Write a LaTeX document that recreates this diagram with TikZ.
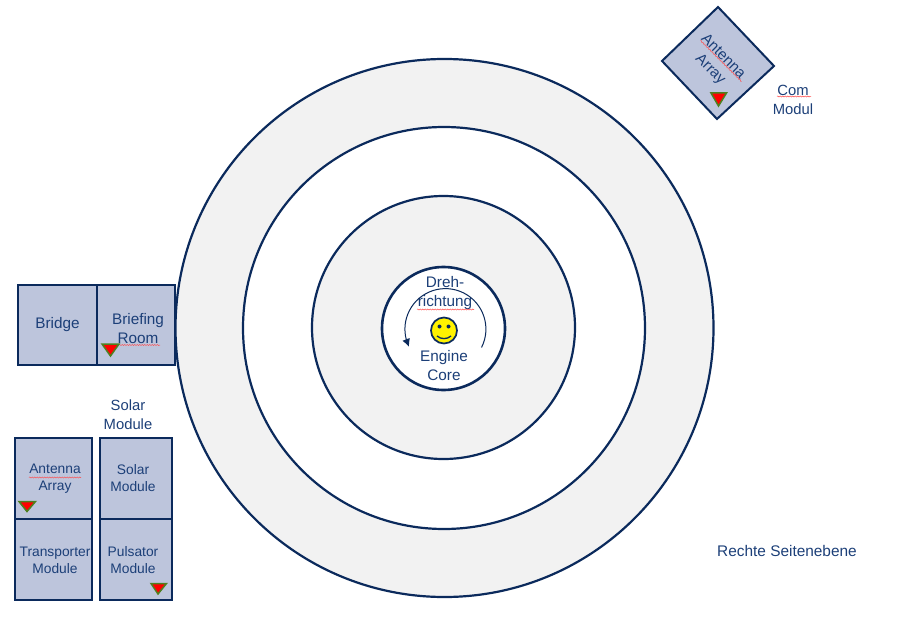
\documentclass[tikz,border=0pt]{standalone}
\usepackage{fontspec}
\setmainfont{Liberation Sans}
\usetikzlibrary{arrows.meta,bending,decorations.pathmorphing}
\definecolor{navy}{HTML}{0B2A5C}
\definecolor{txt}{HTML}{1C3F78}
\definecolor{boxfill}{HTML}{BDC5DC}
\definecolor{ring}{HTML}{F2F2F2}
\definecolor{mark}{HTML}{FF0000}
\definecolor{markedge}{HTML}{4F7F1F}
\tikzset{
  ringc/.style={circle,draw=navy,line width=2.2pt,inner sep=0pt,minimum size=#1},
  room/.style={rectangle,draw=navy,line width=2pt,fill=boxfill,inner sep=0pt},
  lab/.style={text=txt,align=center,inner sep=0pt,font=\fontsize{15.3}{19}\selectfont},
  slab/.style={text=txt,align=center,inner sep=0pt,font=\fontsize{13.8}{17}\selectfont},
  tri/.style={draw=markedge,fill=mark,line width=1.5pt,line join=miter},
  squig/.style={draw=red!70!white,line width=0.5pt,decorate,decoration={snake,amplitude=0.5pt,segment length=2.5pt}}
}
\begin{document}
\begin{tikzpicture}[x=1pt,y=-1pt]
\useasboundingbox (0,0) rectangle (907,631);
% rings
\node[ringc=538pt,fill=ring] (r1) at (444.5,328) {};
\node[ringc=402pt,fill=white] (r2) at (444,328) {};
\node[ringc=263pt,fill=ring] (r3) at (443.5,327.5) {};
\node[ringc=123pt,fill=white,line width=2.6pt] (r4) at (443.5,328.5) {};
% core
\node[lab] (dreh) at (445,293) {Dreh-\\richtung};
\node[lab] (core) at (444,366) {Engine\\Core};
\draw[squig] (417,309.5) -- (474,309.5);
\draw[navy,line width=1pt,-{Latex[length=8pt,width=8pt,flex=0.9]}] (481.5,347.5) arc[start angle=27,end angle=-206,radius=40.5];
\node[circle,draw=navy,fill=yellow,line width=1.7pt,minimum size=26pt,inner sep=0pt] (smile) at (444,330.5) {};
\fill[navy] (439.5,326.5) circle (2pt) (448.5,326.5) circle (2pt);
\draw[navy,line width=1.3pt] (437,336) .. controls (441,339.5) and (447,339.5) .. (451,336);
% bridge
\node[room,minimum width=79pt,minimum height=80pt] (bridge) at (57.5,325) {};
\node[room,minimum width=78pt,minimum height=80pt] (brief) at (136,325) {};
\node[lab] at (bridge.center) {Bridge};
\node[lab] (brieft) at (138,328.5) {Briefing\\Room};
\draw[squig] (119,345) -- (160,345);
\draw[tri] (102,344) -- (119,344) -- (110.5,356) -- cycle;
% solar
\node[slab,font=\fontsize{14.8}{19}\selectfont] (solart) at (128,415) {Solar\\Module};
\node[room,minimum width=77pt,minimum height=81pt] (ant) at (53.5,478.5) {};
\node[room,minimum width=77pt,minimum height=81pt] (trans) at (53.5,559.5) {};
\node[room,minimum width=72pt,minimum height=81pt] (sol) at (136,478.5) {};
\node[room,minimum width=72pt,minimum height=81pt] (pul) at (136,559.5) {};
\node[slab] at (55,478.5) {Antenna\\Array};
\node[slab] at (55,560) {Transporter\\Module};
\node[slab] at (133,478.5) {Solar\\Module};
\node[slab] at (133,560) {Pulsator\\Module};
\draw[squig] (29,477.5) -- (81,477.5);
\draw[tri] (19,501.5) -- (35.5,501.5) -- (27,511.5) -- cycle;
\draw[tri] (151,583.5) -- (166.5,583.5) -- (158,594) -- cycle;
% com
\draw[navy,line width=2pt,fill=boxfill,line join=miter] (718,7) -- (774,66) -- (717,119) -- (662,61) -- cycle;
\node[slab,rotate=-45,font=\fontsize{15}{18}\selectfont] (anten) at (716.5,63.5) {Antenna\\Array};
\draw[squig] (700.5,40.5) -- (741.5,81.5);
\draw[tri] (711,93) -- (726.5,93) -- (718.5,106) -- cycle;
\node[slab,font=\fontsize{14.8}{19}\selectfont] (com) at (793,100) {Com\\Modul};
\draw[squig] (777,96.5) -- (811,96.5);
\node[slab,font=\fontsize{15.4}{17}\selectfont,anchor=west] (re) at (717,551) {Rechte Seitenebene};
\end{tikzpicture}
\end{document}
